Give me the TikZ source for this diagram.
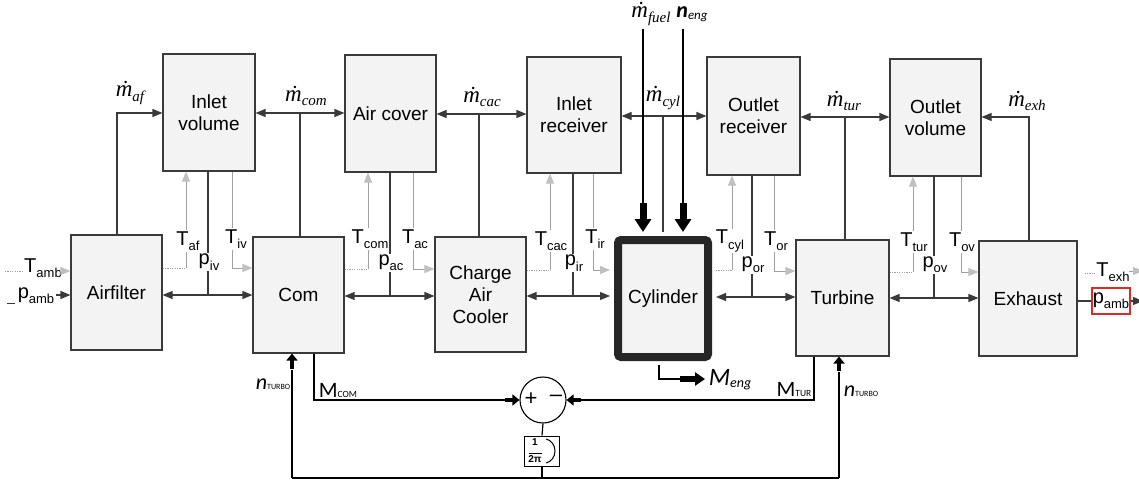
\documentclass[tikz,border=0pt]{standalone}
\usepackage{fontspec}
\setmainfont{Liberation Sans}
\newfontfamily\serifit{Liberation Serif}
\newfontfamily\calib{Carlito}
\usetikzlibrary{arrows.meta,calc}
\definecolor{boxfill}{HTML}{F3F3F3}
\definecolor{edge}{HTML}{3A3A3A}
\definecolor{lgray}{HTML}{A0A0A0}
\definecolor{hgray}{HTML}{C0C0C0}
\definecolor{redbox}{HTML}{E02828}
\newcommand{\mdot}[1]{{\serifit\itshape\fontsize{23}{23}\selectfont ṁ\raisebox{-0.4ex}{\fontsize{15}{15}\selectfont #1}}}
\newcommand{\Tsub}[2]{{\fontsize{20}{20}\selectfont #1\raisebox{-0.5ex}{\fontsize{13}{13}\selectfont #2}}}
\newcommand{\nturbo}{{\calib\itshape\fontsize{22}{22}\selectfont n}{\calib\fontsize{8}{8}\selectfont TURBO}}
\begin{document}
\begin{tikzpicture}[x=1pt,y=-1pt,
  blk/.style={draw=edge, fill=boxfill, line width=1.1pt, font=\fontsize{19}{22}\selectfont, align=center, inner sep=0pt},
  con/.style={draw=edge, line width=1.1pt},
  con2/.style={draw=black, line width=1.2pt},
  arr/.style={con, -{Triangle[length=10pt,width=8pt]}},
  darr/.style={con, {Triangle[length=10pt,width=8pt]}-{Triangle[length=10pt,width=8pt]}},
  tline/.style={draw=lgray, line width=0.9pt, -{Triangle[length=10pt,width=8pt,color=hgray]}},
  dotl/.style={draw=lgray, line width=0.9pt, dash pattern=on 1.2pt off 1.2pt},
  lab/.style={fill=white, inner sep=1pt},
  fatbig/.style={draw=black, line width=7pt, -{Triangle[length=13pt,width=16pt]}},
  fatsmall/.style={draw=black, line width=4.5pt, -{Triangle[length=7pt,width=11pt]}},
  fatmid/.style={draw=black, line width=6pt, -{Triangle[length=10pt,width=13pt]}}
]
\useasboundingbox (0,0) rectangle (1139,481);

% ---------- blocks ----------
\node[blk, minimum width=91pt, minimum height=115pt] (af)  at (116.5,292.5) {Airfilter};
\node[blk, minimum width=92pt, minimum height=117pt] (iv)  at (209,112.5) {Inlet\\volume};
\node[blk, minimum width=91pt, minimum height=116pt] (com) at (298.5,295) {Com};
\node[blk, minimum width=91pt, minimum height=117pt] (ac)  at (390.5,113.5) {Air cover};
\node[blk, minimum width=91pt, minimum height=115pt] (cac) at (480.5,294.5) {Charge\\Air\\Cooler};
\node[blk, minimum width=94pt, minimum height=116pt] (ir)  at (574,115) {Inlet\\receiver};
\node[blk, draw=black!85, line width=8pt, rounded corners=3pt, minimum width=90pt, minimum height=117pt] (cyl) at (663,298.5) {Cylinder};
\node[blk, minimum width=93pt, minimum height=118pt] (or)  at (753.5,116) {Outlet\\receiver};
\node[blk, minimum width=93pt, minimum height=116pt] (tur) at (842.5,298) {Turbine};
\node[blk, minimum width=91pt, minimum height=117pt] (ov)  at (935.5,117.5) {Outlet\\volume};
\node[blk, minimum width=98pt, minimum height=115pt] (exh) at (1028,298.5) {Exhaust};

\coordinate (cylW) at ([xshift=-4pt]cyl.west);
\coordinate (cylE) at ([xshift=4pt]cyl.east);
\coordinate (cylN) at ([yshift=4pt]cyl.north);
\coordinate (cylS) at ([yshift=-4pt]cyl.south);

% ---------- upper mass-flow connectors ----------
\draw[arr] (af.north -| 117,0) -- (117,113) -- (iv.west |- 0,113);
\draw[darr] (iv.east |- 0,113) -- (ac.west |- 0,113);
\draw[con] (com.north -| 300,0) -- (300,113);
\draw[darr] (ac.east |- 0,114) -- (ir.west |- 0,114);
\draw[con] (cac.north -| 479,0) -- (479,114);
\draw[darr] (ir.east |- 0,116) -- (or.west |- 0,116);
\draw[con] (cylN -| 663,0) -- (663,116);
\draw[darr] (or.east |- 0,117) -- (ov.west |- 0,117);
\draw[con] (tur.north -| 845,0) -- (845,117);
\draw[arr] (exh.north -| 1029,0) -- (1029,117) -- (ov.east |- 0,117);

% ---------- lower pressure connectors ----------
\draw[darr] (af.east |- 0,295) -- (com.west |- 0,295);
\draw[con] (iv.south -| 208,0) -- (208,295);
\draw[darr] (com.east |- 0,296) -- (cac.west |- 0,296);
\draw[con] (ac.south -| 390,0) -- (390,296);
\draw[darr] (cac.east |- 0,296) -- (cylW |- 0,296);
\draw[con] (ir.south -| 573,0) -- (573,296);
\draw[darr] (cylE |- 0,297) -- (tur.west |- 0,297);
\draw[con] (or.south -| 752,0) -- (752,297);
\draw[darr] (tur.east |- 0,298) -- (exh.west |- 0,298);
\draw[con] (ov.south -| 934,0) -- (934,298);

% ---------- temperature connectors ----------
\draw[dotl] (af.east |- 0,268) -- (186,268);
\draw[tline] (186,268) -- (iv.south -| 186,0);
\draw[tline] (iv.south -| 232,0) -- (232,268) -- (com.west |- 0,268);

\draw[dotl] (com.east |- 0,269) -- (368,269);
\draw[tline] (368,269) -- (ac.south -| 368,0);
\draw[tline] (ac.south -| 413,0) -- (413,269) -- (cac.west |- 0,269);

\draw[dotl] (cac.east |- 0,270) -- (550,270);
\draw[tline] (550,270) -- (ir.south -| 550,0);
\draw[tline] (ir.south -| 593,0) -- (593,270) -- (cylW |- 0,270);

\draw[dotl] (cylE |- 0,270) -- (732,270);
\draw[tline] (732,270) -- (or.south -| 732,0);
\draw[tline] (or.south -| 774,0) -- (774,271) -- (tur.west |- 0,271);

\draw[dotl] (tur.east |- 0,272) -- (913,272);
\draw[tline] (913,272) -- (ov.south -| 913,0);
\draw[tline] (ov.south -| 961,0) -- (961,272) -- (exh.west |- 0,272);

% labels on lines
\node[lab] (laf)  at (188,241) {\Tsub{T}{af}};
\node[lab] (lpiv) at (209,262) {\Tsub{p}{iv}};
\node[lab] (liv)  at (236,239) {\Tsub{T}{iv}};
\node[lab] (lcom) at (370,239) {\Tsub{T}{com}};
\node[lab] (lpac) at (391,263) {\Tsub{p}{ac}};
\node[lab] (lac)  at (415,239) {\Tsub{T}{ac}};
\node[lab] (lcac) at (551,241) {\Tsub{T}{cac}};
\node[lab] (lpir) at (574,263) {\Tsub{p}{ir}};
\node[lab] (lir)  at (595,239) {\Tsub{T}{ir}};
\node[lab] (lcyl) at (730,241) {\Tsub{T}{cyl}};
\node[lab] (lpor) at (753,265) {\Tsub{p}{or}};
\node[lab] (lor)  at (776,241) {\Tsub{T}{or}};
\node[lab] (ltur) at (914,242) {\Tsub{T}{tur}};
\node[lab] (lpov) at (935,265) {\Tsub{p}{ov}};
\node[lab] (lov)  at (962,242) {\Tsub{T}{ov}};

% mass flow labels
\node (maf)  at (130,93)  {\mdot{af}};
\node (mcom) at (306,96)  {\mdot{com}};
\node (mcac) at (482,97)  {\mdot{cac}};
\node (mcyl) at (663,98)  {\mdot{cyl}};
\node (mtur) at (844,101) {\mdot{tur}};
\node (mexh) at (1027,101) {\mdot{exh}};

% fuel and engine speed inputs
\node (mfuel) at (651,14) {\mdot{fuel}};
\node (neng) at (692,14) {{\calib\itshape\bfseries\fontsize{22}{22}\selectfont n}\raisebox{-0.3ex}{\calib\itshape\fontsize{13}{13}\selectfont eng}};
\coordinate (fuel0) at (643,29);
\coordinate (eng0) at (683,29);
\draw[con2] (fuel0) -- (643,206);
\draw[fatbig] (643,203) -- (cylN -| 643,0);
\draw[con2] (eng0) -- (683,206);
\draw[fatbig] (683,203) -- (cylN -| 683,0);

% ---------- ambient inputs ----------
\draw[dotl] (5,271) -- (24,271);
\node (tamb) at (43,268) {\Tsub{T}{amb}};
\draw[tline] (60,271) -- (af.west |- 0,271);
\draw[draw=edge, line width=1pt] (7,303) -- (15,303);
\node (pamb) at (36,296) {\Tsub{p}{amb}};
\draw[arr] (56,295) -- (af.west |- 0,295);

% ---------- exhaust outputs ----------
\draw[dotl] (exh.east |- 0,273) ++(7,0) -- (1096,273);
\node (texh) at (1113,272) {\Tsub{T}{exh}};
\draw[tline] (1129,271) -- (1143,271);
\node[draw=redbox, line width=1.2pt, minimum width=38pt, minimum height=26pt, inner sep=0pt] (pambo) at (1111,301) {\Tsub{p}{amb}};
\draw[con] (exh.east |- 0,301) -- (pambo.west);
\draw[arr] (pambo.east) -- (1143,301);

% ---------- turbocharger shaft balance ----------
\node[circle, draw=black, line width=1.1pt, minimum size=46pt, inner sep=0pt] (sum) at (543,400) {};
\node[font=\fontsize{22}{22}\selectfont] (plus) at (531,399) {+};
\node[font=\fontsize{22}{22}\selectfont] (minus) at (556,398) {–};
\node[draw=black, line width=1pt, minimum width=35pt, minimum height=30pt, inner sep=0pt] (int) at (542,451) {};
\node[inner sep=0pt, align=center, font=\fontsize{10}{11}\selectfont\bfseries] (frac) at (535,451) {1\\[-3pt]\rule{13pt}{0.9pt}\\[-2pt]2π};
\draw[line width=1pt] (546,439) .. controls (551,440) and (555,445) .. (555,451) .. controls (555,457) and (551,462) .. (546,463);

\coordinate (bl) at (292,478);
\coordinate (br) at (839,478);
\draw[con2] (sum.south) -- (int.north);
\draw[con2] (int.south) -- (int.south |- bl);
\draw[con2] (bl) -- (br);
\draw[con2] (bl) -- (292,370);
\draw[fatsmall] (292,369) -- (com.south -| bl);
\draw[con2] (br) -- (839,372);
\draw[fatsmall] (839,371) -- (tur.south -| br);

\draw[con2] (com.south -| 314,0) -- (314,400) -- (505,400);
\draw[fatsmall] (505,400) -- (sum.west);
\draw[con2] (tur.south -| 814,0) -- (814,400) -- (581,400);
\draw[fatsmall] (581,400) -- (sum.east);

\coordinate (meng) at (705,379);
\draw[con2] (cylS -| 659,0) -- (659,379) -- (682,379);
\draw[fatmid] (680,379) -- (meng);

\node (lmcom) at (338,390) {{\calib\fontsize{22}{22}\selectfont M}{\calib\fontsize{9.5}{9.5}\selectfont COM}};
\node (lmtur) at (794,389) {{\calib\fontsize{22}{22}\selectfont M}{\calib\fontsize{9.5}{9.5}\selectfont TUR}};
\node (lnt1) at (273,384) {\nturbo};
\node (lnt2) at (861,391) {\nturbo};
\node (lmeng) at (730,380) {{\calib\itshape\fontsize{25}{25}\selectfont M}\raisebox{-0.4ex}{\calib\itshape\fontsize{14}{14}\selectfont eng}};
\end{tikzpicture}
\end{document}
